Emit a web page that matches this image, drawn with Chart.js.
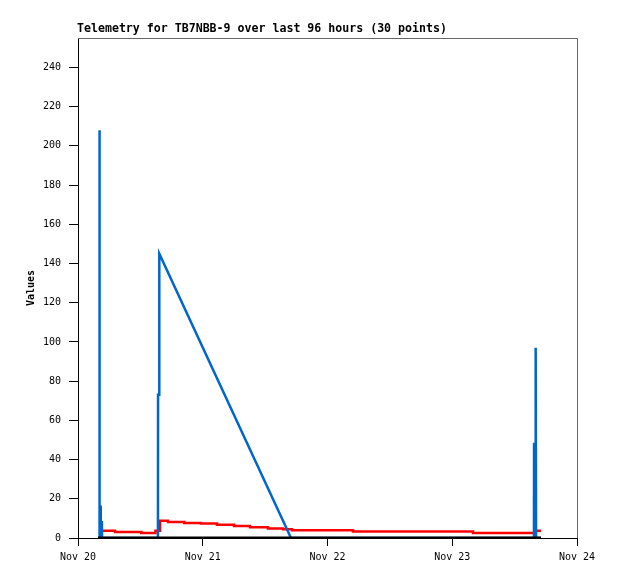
<!DOCTYPE html>
<html>
<head>
<meta charset="utf-8">
<script src="https://cdn.jsdelivr.net/npm/chart.js@4/dist/chart.umd.min.js"></script>
<style>
  html, body { margin: 0; background: #fff; }
  canvas { display: block; }
</style>
</head>
<body>
<canvas id="telemetry" width="618" height="579"></canvas>
<script>
// hours since Nov 20 00:00
const dayLabels = ['Nov 20', 'Nov 21', 'Nov 22', 'Nov 23', 'Nov 24'];

const blueHours  = [3.85, 4.12, 4.14, 4.16, 4.36, 4.38, 4.6, 4.62, 15.38, 15.4, 15.62, 15.64, 40.98, 87.72, 87.74, 87.98, 88.0, 88.1, 88.12, 89.07];
const blueValues = [0, 0, 208, 16, 16, 8, 8, 0, 0, 73, 73, 145, 0, 0, 48, 48, 97, 97, 0, 0];

const redHours  = [4.14, 7.12, 12.18, 14.9, 15.77, 17.31, 20.45, 23.66, 26.74, 30.01, 33.09, 36.55, 39.44, 41.17, 52.9, 75.99, 87.92, 89.07];
const redValues = [3.7, 3.1, 2.55, 3.7, 8.8, 8.2, 7.7, 7.4, 6.8, 6.1, 5.5, 4.9, 4.5, 3.9, 3.3, 2.6, 3.7, 3.7];

const blackHours  = [3.85, 89.07];
const blackValues = [0, 0];

const pts = (xs, ys) => xs.map((x, i) => ({ x: x, y: ys[i] }));

const mono = '"DejaVu Sans Mono", "Liberation Mono", monospace';

const frame = {
    id: 'frame',
    afterDraw(chart) {
        const { ctx, chartArea: a } = chart;
        ctx.save();
        ctx.strokeStyle = '#666';
        ctx.lineWidth = 1;
        ctx.beginPath();
        ctx.moveTo(a.left, a.top + 0.5);
        ctx.lineTo(a.right + 0.5, a.top + 0.5);
        ctx.lineTo(a.right + 0.5, a.bottom);
        ctx.stroke();
        ctx.fillStyle = '#000';
        ctx.font = 'bold 11.6px ' + mono;
        ctx.textBaseline = 'alphabetic';
        ctx.fillText('Telemetry for TB7NBB-9 over last 96 hours (30 points)', a.left - 1, 32);
        ctx.restore();
    }
};

new Chart(document.getElementById('telemetry'), {
    type: 'line',
    data: {
        datasets: [{
            data: pts(blackHours, blackValues),
            borderColor: '#000',
            borderWidth: 3,
            order: 0
        }, {
            data: pts(blueHours, blueValues),
            borderColor: '#0066cc',
            borderWidth: 2.5,
            order: 1
        }, {
            data: pts(redHours, redValues),
            borderColor: '#ff0000',
            borderWidth: 2.5,
            stepped: true,
            order: 2
        }]
    },
    options: {
        responsive: false,
        animation: false,
        elements: { point: { radius: 0 }, line: { tension: 0 } },
        layout: { padding: { top: 38, right: 41, left: 0, bottom: 0 } },
        plugins: { legend: { display: false }, tooltip: { enabled: false } },
        scales: {
            x: {
                type: 'linear',
                min: 0,
                max: 96,
                afterFit(s) { s.height = 41; },
                border: { color: '#000', width: 1 },
                grid: { drawOnChartArea: false, color: '#000', tickLength: 8 },
                ticks: {
                    stepSize: 24,
                    padding: 5,
                    color: '#000',
                    font: { family: mono, size: 10 },
                    maxRotation: 0,
                    callback: v => dayLabels[v / 24]
                }
            },
            y: {
                min: 0,
                max: 255,
                afterFit(s) { s.width = 78; },
                border: { color: '#000', width: 1 },
                grid: { drawOnChartArea: false, color: '#000', tickLength: 9 },
                ticks: {
                    stepSize: 20,
                    includeBounds: false,
                    padding: 8,
                    color: '#000',
                    font: { family: mono, size: 10 }
                },
                title: {
                    display: true,
                    text: 'Values',
                    color: '#000',
                    font: { family: mono, size: 10, weight: 'bold' },
                    padding: { top: 25, bottom: 0 }
                }
            }
        }
    },
    plugins: [frame]
});
</script>
</body>
</html>
